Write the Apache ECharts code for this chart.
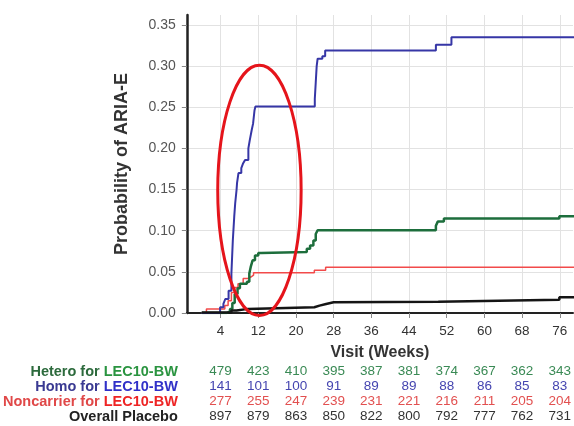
<!DOCTYPE html>
<html>
<head>
<meta charset="utf-8">
<script src="https://cdn.jsdelivr.net/npm/echarts@6/dist/echarts.min.js"></script>
<style>
  html, body { margin: 0; padding: 0; background: #fff; }
  #chart { width: 574px; height: 426px; }
</style>
</head>
<body>
<div id="chart"></div>
<script>
// Visit weeks shown on the x axis and used as columns of the at-risk table
const visitWeeks = [4, 12, 20, 28, 36, 44, 52, 60, 68, 76];
const probTicks = [0, 0.05, 0.10, 0.15, 0.20, 0.25, 0.30, 0.35];

// Numbers at risk per visit
const heteroAtRisk = [479, 423, 410, 395, 387, 381, 374, 367, 362, 343];
const homoAtRisk = [141, 101, 100, 91, 89, 89, 88, 86, 85, 83];
const noncarrierAtRisk = [277, 255, 247, 239, 231, 221, 216, 211, 205, 204];
const placeboAtRisk = [897, 879, 863, 850, 822, 800, 792, 777, 762, 731];

// Cumulative probability of ARIA-E, [week, probability] at each event time
const homoCurve = [
  [0, 0], [3.9, 0.007], [4.6, 0.011], [5.0, 0.017], [5.7, 0.027], [6.3, 0.048],
  [6.6, 0.088], [6.9, 0.117], [7.1, 0.133], [7.4, 0.15], [7.5, 0.158], [7.8, 0.17],
  [8.4, 0.176], [8.8, 0.182], [9.2, 0.186], [9.9, 0.2], [10.2, 0.21], [10.6, 0.222],
  [10.9, 0.23], [11.2, 0.246], [11.4, 0.251], [24.0, 0.26], [24.2, 0.28], [24.4, 0.30],
  [24.6, 0.309], [25.6, 0.312], [26.2, 0.319], [49.7, 0.326], [53.0, 0.335], [80, 0.335]
];
const heteroCurve = [
  [0, 0], [5.3, 0.002], [6.0, 0.005], [6.5, 0.012], [7.0, 0.023], [7.6, 0.03],
  [8.1, 0.0355], [9.6, 0.038], [10.1, 0.048], [10.4, 0.056], [10.8, 0.064], [11.3, 0.07],
  [12.0, 0.073], [12.6, 0.074], [22.3, 0.078], [23.0, 0.082], [23.7, 0.088], [24.2, 0.096],
  [24.6, 0.1005], [49.7, 0.106], [50.1, 0.111], [51.4, 0.1147], [75.9, 0.1175], [80, 0.1175]
];
const noncarrierCurve = [
  [0, 0], [1.0, 0.005], [4.9, 0.009], [5.6, 0.015], [6.3, 0.025], [7.0, 0.031],
  [7.7, 0.0355], [8.8, 0.042], [9.8, 0.044], [10.5, 0.046], [11.0, 0.049],
  [23.9, 0.052], [26.3, 0.0557], [80, 0.0557]
];
const placeboCurve = [
  [0, 0.0005], [6.3, 0.003], [7.4, 0.005], [9.8, 0.007], [23.9, 0.009], [25.0, 0.011],
  [26.4, 0.013], [28.0, 0.0137], [50.2, 0.016], [75.9, 0.019], [80, 0.019]
];

const FONT = 'Liberation Sans, Arial, Helvetica, sans-serif';
const X_MIN = -3.16, X_MAX = 78.8;
const Y_MIN = 0, Y_MAX = 0.362;

const chart = echarts.init(document.getElementById('chart'), null, { renderer: 'canvas' });

// One hidden-line x axis per at-risk row, so the counts line up under the visit ticks
function tableAxis(offset, counts, numColor, rich, nameText) {
  return {
    type: 'value', position: 'bottom', min: X_MIN, max: X_MAX, offset: offset,
    axisLine: { show: false, onZero: false },
    axisTick: { show: false },
    splitLine: { show: false },
    axisLabel: {
      customValues: visitWeeks, margin: 0, verticalAlign: 'middle',
      fontFamily: FONT, fontSize: 13.5, color: numColor,
      formatter: v => String(counts[visitWeeks.indexOf(v)])
    },
    name: nameText, nameLocation: 'start', nameGap: 9,
    nameTextStyle: { fontFamily: FONT, fontWeight: 'bold', fontSize: 14.5, verticalAlign: 'middle', align: 'right', rich: rich }
  };
}

const richLabel = (c1, c2) => ({
  a: { color: c1, fontFamily: FONT, fontWeight: 'bold', fontSize: 14.5 },
  b: { color: c2, fontFamily: FONT, fontWeight: 'bold', fontSize: 14.5 }
});

const option = {
  backgroundColor: '#ffffff',
  animation: false,
  grid: { left: 185, right: 0, top: 15, bottom: 113, containLabel: false },
  xAxis: [
    {
      type: 'value', position: 'bottom', min: X_MIN, max: X_MAX,
      axisLine: { onZero: false, lineStyle: { color: '#222', width: 2 } },
      axisTick: { customValues: visitWeeks, length: 5, lineStyle: { color: '#888' } },
      axisLabel: { customValues: visitWeeks, margin: 11, fontFamily: FONT, fontSize: 13.5, color: '#333' },
      splitLine: { show: true, lineStyle: { color: '#e2e2e2', width: 1 } },
      name: 'Visit (Weeks)', nameLocation: 'middle', nameGap: 32,
      nameTextStyle: { fontFamily: FONT, fontWeight: 'bold', fontSize: 16, color: '#333' }
    },
    tableAxis(58.7, heteroAtRisk, '#3a8a55', richLabel('#2c6a3c', '#2a9440'), '{a|Hetero for }{b|LEC10-BW}'),
    tableAxis(73.7, homoAtRisk, '#4545b0', richLabel('#3a3a92', '#3030c8'), '{a|Homo for }{b|LEC10-BW}'),
    tableAxis(88.7, noncarrierAtRisk, '#e25050', richLabel('#e04848', '#ee2424'), '{a|Noncarrier for }{b|LEC10-BW}'),
    tableAxis(103.7, placeboAtRisk, '#333333', richLabel('#222222', '#222222'), '{a|Overall Placebo}')
  ],
  yAxis: {
    type: 'value', min: Y_MIN, max: Y_MAX,
    axisLine: { show: true, onZero: false, lineStyle: { color: '#222', width: 2.5 } },
    axisTick: { show: true, customValues: probTicks, length: 5, lineStyle: { color: '#888' } },
    axisLabel: { customValues: probTicks, margin: 11, fontFamily: FONT, fontSize: 14, color: '#555',
      formatter: v => v.toFixed(2) },
    splitLine: { show: true, lineStyle: { color: '#e2e2e2', width: 1 } },
    name: 'Probability of ARIA-E', nameLocation: 'middle', nameGap: 56,
    nameTextStyle: { fontFamily: FONT, fontWeight: 'bold', fontSize: 18, color: '#333' }
  },
  series: [
    { name: 'Noncarrier', type: 'line', step: 'end', data: noncarrierCurve, showSymbol: false, symbol: 'none',
      lineStyle: { color: '#f24a4a', width: 1.5 }, z: 2 },
    { name: 'Hetero', type: 'line', step: 'end', data: heteroCurve, showSymbol: false, symbol: 'none',
      lineStyle: { color: '#1d6e3c', width: 2.5 }, z: 3 },
    { name: 'Homo', type: 'line', step: 'end', data: homoCurve, showSymbol: false, symbol: 'none',
      lineStyle: { color: '#3636a6', width: 2 }, z: 4 },
    { name: 'Placebo', type: 'line', step: 'end', data: placeboCurve, showSymbol: false, symbol: 'none',
      lineStyle: { color: '#151515', width: 2.5 }, z: 5 }
  ]
};

chart.setOption(option);

// Highlight ellipse around the early Homo rise, defined in data units
const highlight = { week: 12.25, prob: 0.149, rWeek: 8.85, rProb: 0.152 };
const c = chart.convertToPixel({ seriesIndex: 0 }, [highlight.week, highlight.prob]);
const e = chart.convertToPixel({ seriesIndex: 0 }, [highlight.week + highlight.rWeek, highlight.prob + highlight.rProb]);
chart.setOption({
  graphic: [{
    type: 'ellipse', z: 100,
    shape: { cx: c[0], cy: c[1], rx: Math.abs(e[0] - c[0]), ry: Math.abs(c[1] - e[1]) },
    style: { fill: 'none', stroke: '#e5141b', lineWidth: 3 }
  }]
});
</script>
</body>
</html>
